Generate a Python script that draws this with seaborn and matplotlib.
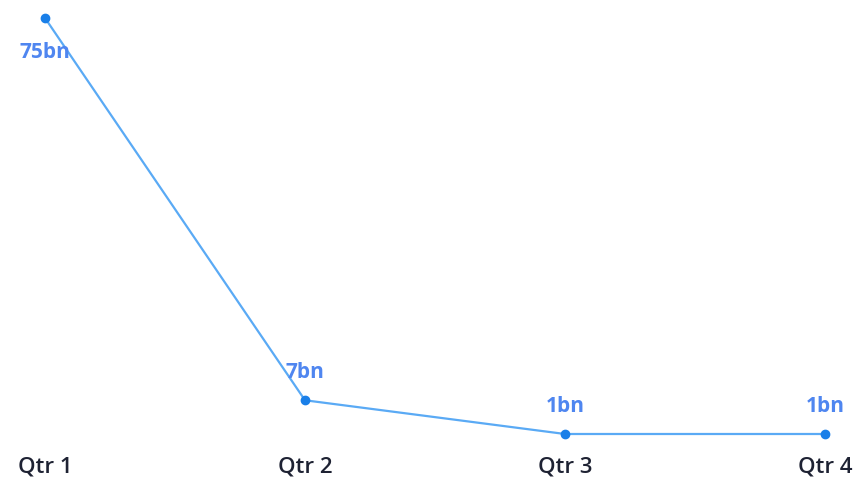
import pandas as pd
import seaborn as sns
import matplotlib.pyplot as plt

quarters = ["Qtr 1", "Qtr 2", "Qtr 3", "Qtr 4"]
values = [75, 7, 1, 1]
labels = ["75bn", "7bn", "1bn", "1bn"]

df = pd.DataFrame({"quarter": quarters, "value": values})

sns.set_style("white")
plt.rcParams["font.family"] = ["Open Sans", "DejaVu Sans"]

fig = plt.figure(figsize=(8.58, 4.79), dpi=100)
ax = fig.add_axes([0, 34 / 479, 1, 445 / 479])

sns.lineplot(data=df, x="quarter", y="value", ax=ax, color="#5aaaf5",
             linewidth=1.6, sort=False)
ax.scatter(range(len(values)), values, color="#1a7fe8", s=36, zorder=3)

for i, (v, lab) in enumerate(zip(values, labels)):
    off = -25 if i == 0 else 20
    ax.annotate(lab, (i, v), xytext=(0, off), textcoords="offset points",
                ha="center", va="center", fontsize=15, fontweight="bold",
                color="#4f86f0")

ax.set_xlim(-45 / 260, 3 + 33 / 260)
ax.set_ylim(1 - 11 / 5.62, 75 + 18 / 5.62)
ax.set_yticks([])
ax.set_xlabel("")
ax.set_ylabel("")
ax.tick_params(axis="x", length=0, pad=8, labelsize=16, labelcolor="#1e2233")
for t in ax.get_xticklabels():
    t.set_fontweight("semibold")
sns.despine(ax=ax, left=True, bottom=True)

fig.savefig("out.png", dpi=100)
